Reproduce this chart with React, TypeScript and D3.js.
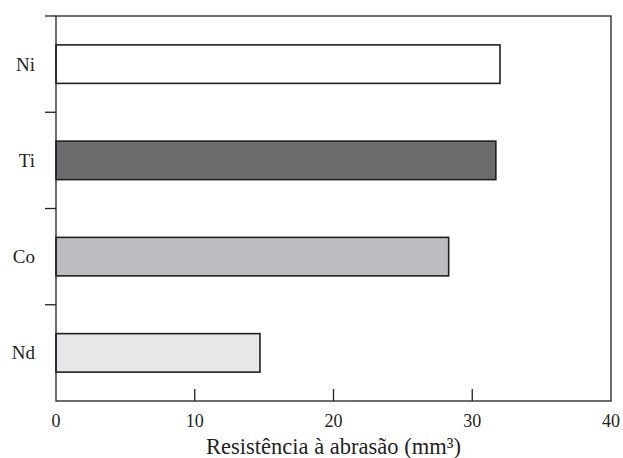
import React from 'react';
import * as d3 from 'd3';

// data
const categories = ['Ni', 'Ti', 'Co', 'Nd'];
const values = [32.0, 31.7, 28.3, 14.7];
const fills = ['#ffffff', '#6b6c6e', '#bcbdc0', '#e6e7e8'];
const xTicks = [0, 10, 20, 30, 40];
const xTitle = 'Resistência à abrasão (mm³)';

const width = 623;
const height = 458;
const margin = { top: 16, right: 12, bottom: 57, left: 56 };
const ink = '#231f20';
const font = "'Liberation Serif'";

const App = () => {
  const innerW = width - margin.left - margin.right;
  const innerH = height - margin.top - margin.bottom;

  const x = d3.scaleLinear().domain([0, 40]).range([0, innerW]);
  const band = innerH / categories.length;
  const barH = band * 0.4;
  const bounds = d3.range(categories.length).map((i) => i * band);

  return (
    <svg width={width} height={height} style={{ position: 'absolute', left: 0, top: 0, background: '#fff' }}>
      <g transform={`translate(${margin.left},${margin.top})`}>
        {categories.map((c, i) => (
          <rect
            key={c}
            x={x(0)}
            y={band * i + (band - barH) / 2}
            width={x(values[i]) - x(0)}
            height={barH}
            fill={fills[i]}
            stroke={ink}
            strokeWidth={1.6}
          />
        ))}

        {/* frame */}
        <rect x={0} y={0} width={innerW} height={innerH} fill="none" stroke={ink} strokeWidth={1.3} />

        {/* left ticks outward */}
        {bounds.map((b, i) => (
          <line key={i} x1={-11} x2={0} y1={b} y2={b} stroke={ink} strokeWidth={1.3} />
        ))}
        {categories.map((c, i) => (
          <text
            key={c}
            x={-21}
            y={band * (i + 0.5)}
            textAnchor="end"
            dominantBaseline="central"
            style={{ fontFamily: font }}
            fontSize={19}
            fill={ink}
          >
            {c}
          </text>
        ))}

        {/* bottom ticks inward */}
        {xTicks.slice(1, -1).map((t) => (
          <line key={t} x1={x(t)} x2={x(t)} y1={innerH} y2={innerH - 12} stroke={ink} strokeWidth={1.3} />
        ))}
        {xTicks.map((t) => (
          <text
            key={t}
            x={x(t)}
            y={innerH + 26}
            textAnchor="middle"
            style={{ fontFamily: font }}
            fontSize={18}
            fill={ink}
          >
            {t}
          </text>
        ))}
        <text
          x={innerW / 2}
          y={innerH + 53}
          textAnchor="middle"
          style={{ fontFamily: font }}
          fontSize={22.5}
          fill={ink}
        >
          {xTitle}
        </text>
      </g>
    </svg>
  );
};

export default App;
